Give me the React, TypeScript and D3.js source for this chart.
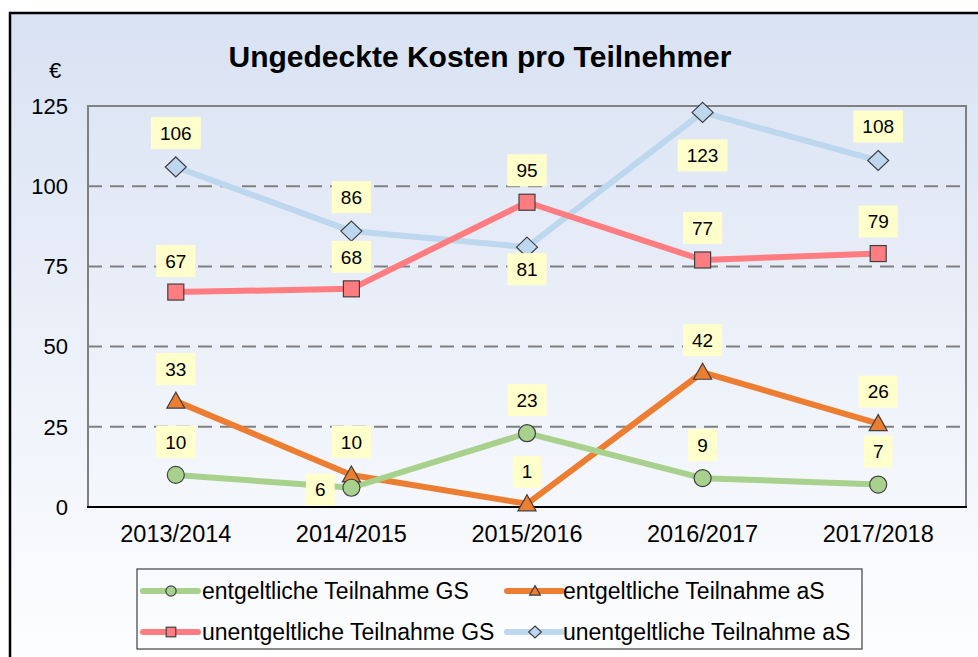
import React from "react";
import * as d3 from "d3";

const categories = ["2013/2014", "2014/2015", "2015/2016", "2016/2017", "2017/2018"];
const seriesNames = [
  "entgeltliche Teilnahme GS",
  "entgeltliche Teilnahme aS",
  "unentgeltliche Teilnahme GS",
  "unentgeltliche Teilnahme aS",
];
const entgeltGS = [10, 6, 23, 9, 7];
const entgeltAS = [33, 10, 1, 42, 26];
const unentgeltGS = [67, 68, 95, 77, 79];
const unentgeltAS = [106, 86, 81, 123, 108];
const yTicks = [0, 25, 50, 75, 100, 125];

// label placement offsets (style)
const labelOffsets: [number, number][][] = [
  [[0, -33], [-31, 2], [0, -33], [0, -33], [0, -33]],
  [[0, -32], [0, -33], [0, -32], [0, -32], [0, -32]],
  [[0, -31], [0, -32], [0, -32], [0, -32], [0, -32]],
  [[0, -34], [0, -34], [0, 22], [0, 43], [0, -34]],
];

const colors = ["#a9d18e", "#ed7d31", "#ff7c80", "#bdd7ee"];
const markerTypes = ["circle", "triangle", "square", "diamond"];
const FONT = "'Liberation Sans', Arial, sans-serif";

function Marker({ type, x, y, fill, s = 1 }: { type: string; x: number; y: number; fill: string; s?: number }) {
  const st = { fill, stroke: "#404040", strokeWidth: 1.2 };
  if (type === "circle") return <circle cx={x} cy={y} r={8.5 * s} {...st} />;
  if (type === "square") return <rect x={x - 8 * s} y={y - 8 * s} width={16 * s} height={16 * s} {...st} />;
  if (type === "triangle")
    return <path d={`M${x},${y - 9 * s}L${x + 9 * s},${y + 7 * s}L${x - 9 * s},${y + 7 * s}Z`} {...st} />;
  return <path d={`M${x},${y - 10 * s}L${x + 10.5 * s},${y}L${x},${y + 10 * s}L${x - 10.5 * s},${y}Z`} {...st} />;
}

export default function App() {
  const W = 978, H = 657;
  const plot = { left: 88, right: 966, top: 106, bottom: 507 };
  const x = d3.scaleBand<string>().domain(categories).range([plot.left, plot.right]);
  const y = d3.scaleLinear().domain([0, 125]).range([plot.bottom, plot.top]);
  const cx = (c: string) => (x(c) as number) + x.bandwidth() / 2;
  const allSeries = [entgeltGS, entgeltAS, unentgeltGS, unentgeltAS];
  const line = d3
    .line<number>()
    .x((_, i) => cx(categories[i]))
    .y((d) => y(d));
  const drawOrder = [3, 2, 1, 0];
  const legendItems = [
    { s: 0, lx: 143, tx: 202, ty: 591 },
    { s: 1, lx: 507, tx: 563, ty: 591 },
    { s: 2, lx: 143, tx: 202, ty: 632 },
    { s: 3, lx: 507, tx: 563, ty: 632 },
  ];
  return (
    <svg width={W} height={H} style={{ position: "absolute", left: 0, top: 0 }} fontFamily={FONT}>
      <defs>
        <linearGradient id="bg" x1="0" y1="0" x2="0" y2="1">
          <stop offset="0" stopColor="#d9e2f3" />
          <stop offset="1" stopColor="#ffffff" />
        </linearGradient>
      </defs>
      <rect x={0} y={0} width={W} height={H} fill="#ffffff" />
      <rect x={10} y={13} width={W + 20} height={H + 20} fill="url(#bg)" stroke="#000" strokeWidth={2.5} />
      <text x={480} y={67} textAnchor="middle" fontSize={30} fontWeight="bold" fill="#000">
        Ungedeckte Kosten pro Teilnehmer
      </text>
      <text x={55} y={70} dy="0.35em" textAnchor="middle" fontSize={22} fill="#000">€</text>
      {yTicks.filter((t) => t > 0 && t < 125).map((t) => (
        <line key={t} x1={plot.left} x2={plot.right} y1={y(t)} y2={y(t)} stroke="#808080" strokeWidth={2} strokeDasharray="14,8" />
      ))}
      <rect x={plot.left} y={plot.top} width={plot.right - plot.left} height={plot.bottom - plot.top} fill="none" stroke="#808080" strokeWidth={2} />
      <line x1={plot.left - 1} x2={plot.right + 1} y1={plot.bottom} y2={plot.bottom} stroke="#000" strokeWidth={2} />
      {yTicks.map((t) => (
        <text key={t} x={68} y={y(t)} dy="0.35em" textAnchor="end" fontSize={22} fill="#000">{t}</text>
      ))}
      {categories.map((c) => (
        <text key={c} x={cx(c)} y={534} dy="0.35em" textAnchor="middle" fontSize={23.5} fill="#000">{c}</text>
      ))}
      {drawOrder.map((s) => (
        <path key={s} d={line(allSeries[s]) as string} fill="none" stroke={colors[s]} strokeWidth={6} strokeLinejoin="round" />
      ))}
      {drawOrder.map((s) =>
        allSeries[s].map((v, i) => (
          <Marker key={`${s}-${i}`} type={markerTypes[s]} x={cx(categories[i])} y={y(v)} fill={colors[s]} />
        ))
      )}
      {allSeries.map((ser, s) =>
        ser.map((v, i) => {
          const [dx, dy] = labelOffsets[s][i];
          const px = cx(categories[i]) + dx;
          const py = y(v) + dy;
          const w = String(v).length * 10.6 + 18;
          return (
            <g key={`l${s}-${i}`}>
              <rect x={px - w / 2} y={py - 16} width={w} height={32} fill="#ffffcc" />
              <text x={px} y={py} dy="0.35em" textAnchor="middle" fontSize={19} fill="#000">{v}</text>
            </g>
          );
        })
      )}
      <rect x={137} y={569} width={725} height={80} fill="none" stroke="#404040" strokeWidth={1.2} />
      {legendItems.map(({ s, lx, tx, ty }) => (
        <g key={s}>
          <line x1={lx} x2={lx + 55} y1={ty} y2={ty} stroke={colors[s]} strokeWidth={6} strokeLinecap="round" />
          <Marker type={markerTypes[s]} x={lx + 28} y={ty} fill={colors[s]} s={0.6} />
          <text x={tx} y={ty} dy="0.35em" fontSize={23} fill="#000">{seriesNames[s]}</text>
        </g>
      ))}
    </svg>
  );
}
